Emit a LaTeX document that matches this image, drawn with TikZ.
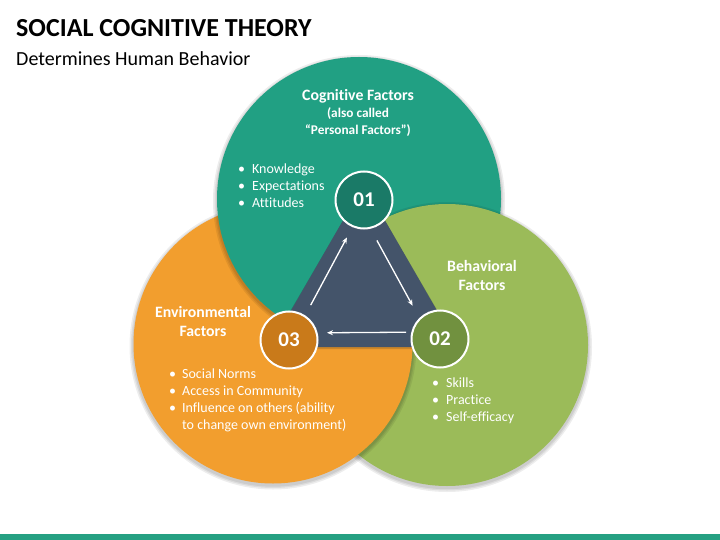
\documentclass[tikz,border=0pt]{standalone}
\usepackage{fontspec}
\setmainfont{Carlito}[Ligatures=NoCommon]
\usetikzlibrary{arrows.meta}
\definecolor{tealc}{HTML}{21A083}
\definecolor{tealdk}{HTML}{1A7A67}
\definecolor{olivec}{HTML}{9BBB59}
\definecolor{olivedk}{HTML}{71913F}
\definecolor{orangec}{HTML}{F29E2E}
\definecolor{orangedk}{HTML}{C97A1A}
\definecolor{slatec}{HTML}{44546A}
\definecolor{barc}{HTML}{26A082}
\tikzset{
  shad/.style={fill=black, opacity=0.07},
  numc/.style={circle, minimum size=57pt, inner sep=0pt, draw=white, line width=2pt,
    text=white, font=\bfseries\fontsize{21}{23}\selectfont},
  head/.style={text=white, align=center, font=\bfseries\fontsize{15.8}{19}\selectfont},
  blist/.style={text=white, anchor=north west, inner sep=0pt, font=\fontsize{14}{17}\selectfont},
  arr/.style={white, line width=1.3pt, -{Stealth[length=6pt,width=5pt]}}
}
\newcommand{\tealcircle}{(359,199) circle (142)}
\newcommand{\tealcirclebig}{(359,199) circle (143.5)}
\newcommand{\olivecircle}{(447,345) circle (141)}
\newcommand{\orangecircle}{(273,344) circle (139.5)}
\newcommand{\myshadow}[3]{%
  \fill[shad] (#1,#2) circle (#3+4);
  \fill[shad] (#1,#2) circle (#3+2.5);
  \fill[shad] (#1,#2) circle (#3+1.2);}
\begin{document}
\begin{tikzpicture}[x=1pt,y=-1pt]
\useasboundingbox (0,0) rectangle (720,540);
\fill[white] (0,0) rectangle (720,540);
% shadows first
\myshadow{359}{201}{142}
\myshadow{447}{347}{141}
\fill[olivec] \olivecircle;
\myshadow{273}{346}{139.5}
\fill[orangec] \orangecircle;
\begin{scope}
  \clip \orangecircle;
  \myshadow{359}{201}{142}
\end{scope}
\fill[tealc] \tealcircle;
\begin{scope}
  \clip \tealcircle;
  \myshadow{447}{347}{141}
\end{scope}
\begin{scope}
  \clip \tealcirclebig;
  \fill[olivec] \olivecircle;
\end{scope}
% triangle
\fill[black, opacity=0.15, rounded corners=6pt] (364,185) -- (268,349) -- (460,349) -- cycle;
\fill[slatec, rounded corners=6pt] (364,184) -- (270,347) -- (458,347) -- cycle;
% number circles
\node[numc, fill=tealdk] (n1) at (364,200) {01};
\node[numc, fill=olivedk] (n2) at (440,339) {02};
\node[numc, fill=orangedk] (n3) at (289,340) {03};
% arrows
\draw[arr, shorten <=10pt, shorten >=13pt, transform canvas={shift={(3,0)}}] (n3) -- (n1);
\draw[arr, shorten <=12pt, shorten >=13pt, transform canvas={shift={(-7,4)}}] (n1) -- (n2);
\draw[arr, shorten <=4.5pt, shorten >=8.5pt, transform canvas={shift={(0,-7)}}] (n2) -- (n3);
% title
\node[anchor=base west, inner sep=0, font=\bfseries\fontsize{26}{30}\selectfont] (title) at (16,37) {SOCIAL COGNITIVE THEORY};
\node[anchor=base west, inner sep=0, font=\fontsize{20}{24}\selectfont] (sub) at (16,66) {Determines Human Behavior};
% headings
\node[text=white, align=center, font=\bfseries\fontsize{13.3}{17}\selectfont] (h1) at (358,112.5)
  {{\fontsize{15.8}{17}\selectfont Cognitive Factors}\\(also called\\“Personal Factors”)};
\node[head] (h2) at (482,275.5) {Behavioral\\Factors};
\node[head] (h3) at (203,321.5) {Environmental\\Factors};
% bullets
\node[blist] (b1) at (238,161.5) {\begin{tabular}{@{}l@{\hspace{7pt}}l@{}}\textbullet & Knowledge\\ \textbullet & Expectations\\ \textbullet & Attitudes\end{tabular}};
\node[blist] (b2) at (432,375.5) {\begin{tabular}{@{}l@{\hspace{7pt}}l@{}}\textbullet & Skills\\ \textbullet & Practice\\ \textbullet & Self-efficacy\end{tabular}};
\node[blist] (b3) at (169,366.5) {\begin{tabular}{@{}l@{\hspace{6pt}}l@{}}\textbullet & Social Norms\\ \textbullet & Access in Community\\ \textbullet & Influence on others (ability\\ & to change own environment)\end{tabular}};
% bottom bar
\fill[barc] (0,534) rectangle (720,540);
\end{tikzpicture}
\end{document}
